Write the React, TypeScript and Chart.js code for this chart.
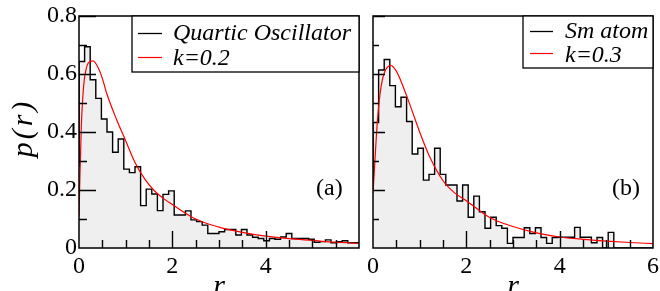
import React, { useEffect, useRef } from "react";
import { Chart, registerables } from "chart.js";

Chart.register(...registerables);

const FONT = '"Liberation Serif"';

// histogram bin edges (shared by both panels)
const binEdges = [
  0, 0.12, 0.24, 0.36, 0.48, 0.6, 0.72, 0.84, 0.96, 1.08,
  1.2, 1.32, 1.44, 1.56, 1.68, 1.8, 1.92, 2.04, 2.16, 2.28,
  2.4, 2.52, 2.64, 2.76, 2.88, 3.0, 3.12, 3.24, 3.36, 3.48,
  3.6, 3.72, 3.84, 3.96, 4.08, 4.2, 4.32, 4.44, 4.56, 4.68,
  4.8, 4.92, 5.04, 5.16, 5.28, 5.4, 5.52, 5.64, 5.76, 5.88, 6.0,
];

// panel (a): Quartic Oscillator histogram
const histA = [
  0.28, 0.643, 0.694, 0.58, 0.516, 0.445, 0.4, 0.33, 0.376, 0.272,
  0.26, 0.28, 0.146, 0.203, 0.186, 0.129, 0.185, 0.197, 0.114, 0.114,
  0.128, 0.097, 0.091, 0.079, 0.05, 0.05, 0.056, 0.064, 0.064, 0.045,
  0.064, 0.045, 0.037, 0.033, 0.025, 0.033, 0.03, 0.038, 0.05, 0.033,
  0.033, 0.033, 0.03, 0.02, 0.022, 0.028, 0.018, 0.022, 0.025, 0.018,
];

// panel (b): Sm atom histogram
const histB = [
  0.23, 0.433, 0.614, 0.65, 0.56, 0.487, 0.52, 0.436, 0.324, 0.344,
  0.234, 0.254, 0.344, 0.254, 0.217, 0.217, 0.162, 0.217, 0.106, 0.179,
  0.125, 0.068, 0.106, 0.077, 0.068, 0.016, 0.036, 0.036, 0.07, 0.05,
  0.07, 0.036, 0.016, 0.036, 0.037, 0.037, 0.037, 0.071, 0.037, 0.037,
  0.018, 0.036, 0, 0.054, 0, 0, 0, 0, 0, 0,
];

// fitted curves
const curveAx = [0, 0.02, 0.05, 0.1, 0.15, 0.2, 0.3, 0.4, 0.5, 0.6, 0.8, 1.0, 1.2, 1.4, 1.6, 1.8, 2.0, 2.5, 3.0, 3.5, 4.0, 4.5, 5.0, 5.5, 6.0];
const curveAy = [0.108, 0.25, 0.42, 0.56, 0.615, 0.638, 0.645, 0.625, 0.585, 0.53, 0.445, 0.37, 0.295, 0.24, 0.2, 0.172, 0.15, 0.1, 0.072, 0.054, 0.041, 0.032, 0.026, 0.02, 0.016];

const curveBx = [0, 0.03, 0.07, 0.1, 0.15, 0.2, 0.25, 0.3, 0.38, 0.5, 0.6, 0.8, 1.0, 1.2, 1.5, 1.75, 2.0, 2.5, 3.0, 3.5, 4.0, 4.5, 5.0, 5.5, 6.0];
const curveBy = [0.19, 0.27, 0.38, 0.45, 0.53, 0.58, 0.607, 0.622, 0.63, 0.61, 0.575, 0.49, 0.4, 0.32, 0.232, 0.19, 0.163, 0.105, 0.074, 0.052, 0.038, 0.03, 0.024, 0.019, 0.015];

// tick labels
const xTickLabelsA = [0, 2, 4];
const xTickLabelsB = [0, 2, 4, 6];
const yTickLabelsA = [0, 0.2, 0.4, 0.6, 0.8];

// inward tick marks
const xTickMarks = [0.5, 1, 1.5, 2, 2.5, 3, 3.5, 4, 4.5, 5, 5.5];
const xMajorMarks = [2, 4];
const yTickMarks = [0.1, 0.2, 0.3, 0.4, 0.5, 0.6, 0.7, 0.8];
const yMajorMarks = [0.2, 0.4, 0.6, 0.8];

const seriesNamesA = ["Quartic Oscillator", "k=0.2"];
const seriesNamesB = ["Sm atom", "k=0.3"];

const decoPlugin = {
  id: "deco",
  afterDatasetsDraw(chart: any, _args: any, opts: any) {
    const ctx = chart.ctx as CanvasRenderingContext2D;
    const { left, right, top, bottom } = chart.chartArea;
    const xs = chart.scales.x;
    const ys = chart.scales.y;
    ctx.save();
    ctx.strokeStyle = "#000";
    ctx.lineWidth = 1.4;
    ctx.beginPath();
    for (const v of yTickMarks) {
      const py = Math.round(ys.getPixelForValue(v)) + 0.5;
      const len = yMajorMarks.includes(v) ? opts.yMajor : opts.yMinor;
      ctx.moveTo(left, py);
      ctx.lineTo(left + len, py);
    }
    for (const v of xTickMarks) {
      const px = Math.round(xs.getPixelForValue(v)) + 0.5;
      const len = xMajorMarks.includes(v) ? opts.xMajor : opts.xMinor;
      ctx.moveTo(px, bottom);
      ctx.lineTo(px, bottom - len);
    }
    ctx.stroke();
    ctx.lineWidth = 1.5;
    ctx.strokeRect(left, top, right - left, bottom - top);

    // legend
    const L = opts.legend;
    ctx.fillStyle = "#fff";
    ctx.fillRect(L.x1, L.y1, L.x2 - L.x1, L.y2 - L.y1);
    ctx.lineWidth = 1.3;
    ctx.strokeStyle = "#000";
    ctx.strokeRect(L.x1, L.y1, L.x2 - L.x1, L.y2 - L.y1);
    ctx.font = `italic 24px ${FONT}`;
    ctx.textAlign = "left";
    ctx.textBaseline = "alphabetic";
    L.rows.forEach((row: any) => {
      const ds = chart.data.datasets[row.ds];
      ctx.strokeStyle = ds.borderColor;
      ctx.lineWidth = row.ds === 1 ? 1.3 : 1.2;
      ctx.beginPath();
      ctx.moveTo(L.lineX1, row.lineY);
      ctx.lineTo(L.lineX2, row.lineY);
      ctx.stroke();
      ctx.fillStyle = "#000";
      ctx.fillText(ds.label, L.textX, row.textY);
    });

    ctx.font = `24px ${FONT}`;
    ctx.fillStyle = "#000";
    ctx.fillText(opts.tag, opts.tagX, opts.tagY);

    // rotated y-axis title
    if (opts.yTitle) {
      const T = opts.yTitle;
      ctx.save();
      ctx.translate(T.x, (top + bottom) / 2 + T.dy);
      ctx.rotate(-Math.PI / 2);
      ctx.font = `italic ${T.size}px ${FONT}`;
      (ctx as any).letterSpacing = `${T.spacing}px`;
      ctx.textAlign = "center";
      ctx.textBaseline = "alphabetic";
      ctx.fillStyle = "#000";
      ctx.fillText(T.text, 0, 0);
      ctx.restore();
    }
    ctx.restore();
  },
};

function buildConfig(p: any): any {
  const histData = binEdges.map((e, i) => ({ x: e, y: i < p.hist.length ? p.hist[i] : p.hist[p.hist.length - 1] }));
  const curveData = p.cx.map((x: number, i: number) => ({ x, y: p.cy[i] }));
  return {
    type: "line",
    data: {
      datasets: [
        {
          label: p.names[1],
          data: curveData,
          borderColor: "#ff0000",
          borderWidth: 1.2,
          pointRadius: 0,
          cubicInterpolationMode: "monotone",
          fill: false,
        },
        {
          label: p.names[0],
          data: histData,
          borderColor: "#000000",
          borderWidth: 1.4,
          backgroundColor: "#efefef",
          pointRadius: 0,
          stepped: "after",
          fill: "origin",
        },
      ],
    },
    options: {
      animation: false,
      responsive: false,
      events: [],
      layout: { padding: { left: 0, top: 16, right: p.padRight, bottom: 0 } },
      plugins: {
        legend: { display: false },
        tooltip: { enabled: false },
        deco: p.deco,
      },
      scales: {
        x: {
          type: "linear",
          min: 0,
          max: 6,
          grid: { display: false, drawTicks: false },
          border: { display: false },
          afterBuildTicks: (s: any) => {
            s.ticks = p.xTicks.map((v: number) => ({ value: v }));
          },
          afterFit: (s: any) => {
            s.height = 43;
            s.paddingLeft = 0;
            s.paddingRight = 0;
          },
          ticks: {
            color: "#000",
            padding: 4,
            maxRotation: 0,
            autoSkip: false,
            font: { family: FONT, size: 24 },
            callback: (v: number) => String(v),
          },
          title: {
            display: true,
            text: "r",
            color: "#000",
            font: { family: FONT, size: 30, style: "italic", lineHeight: 1 },
            padding: { top: 0, bottom: -11 },
          },
        },
        y: {
          type: "linear",
          min: 0,
          max: 0.8,
          grid: { display: false, drawTicks: false },
          border: { display: false },
          afterBuildTicks: (s: any) => {
            s.ticks = p.yTicks.map((v: number) => ({ value: v }));
          },
          afterFit: (s: any) => {
            s.width = p.yWidth;
            s.paddingTop = 0;
            s.paddingBottom = 0;
          },
          ticks: {
            display: p.yTicks.length > 0,
            color: "#000",
            padding: 2,
            autoSkip: false,
            font: { family: FONT, size: 24 },
            callback: (v: number) => String(v),
          },
        },
      },
    },
    plugins: [decoPlugin],
  };
}

const panelA = {
  hist: histA,
  cx: curveAx,
  cy: curveAy,
  names: seriesNamesA,
  xTicks: xTickLabelsA,
  yTicks: yTickLabelsA,
  yWidth: 79,
  padRight: 9,
  deco: {
    yMajor: 17,
    yMinor: 8,
    xMajor: 17,
    xMinor: 8,
    tag: "(a)",
    tagX: 316,
    tagY: 195,
    yTitle: { text: "p(r)", x: 32, dy: -4, size: 30, spacing: 3 },
    legend: {
      x1: 132, y1: 16, x2: 359, y2: 72,
      lineX1: 138, lineX2: 162, textX: 173,
      rows: [
        { ds: 1, lineY: 33.5, textY: 40 },
        { ds: 0, lineY: 57.5, textY: 65 },
      ],
    },
  },
};

const panelB = {
  hist: histB,
  cx: curveBx,
  cy: curveBy,
  names: seriesNamesB,
  xTicks: xTickLabelsB,
  yTicks: [] as number[],
  yWidth: 5,
  padRight: 7,
  deco: {
    yMajor: 12,
    yMinor: 6,
    xMajor: 17,
    xMinor: 8,
    tag: "(b)",
    tagX: 244,
    tagY: 195,
    yTitle: null,
    legend: {
      x1: 155, y1: 16, x2: 285, y2: 68,
      lineX1: 162, lineX2: 185, textX: 197,
      rows: [
        { ds: 1, lineY: 31.5, textY: 38 },
        { ds: 0, lineY: 53.5, textY: 62 },
      ],
    },
  },
};

function Panel({ cfg, left, width }: { cfg: any; left: number; width: number }) {
  const ref = useRef<HTMLCanvasElement>(null);
  useEffect(() => {
    const chart = new Chart(ref.current as HTMLCanvasElement, buildConfig(cfg));
    let alive = true;
    const t1 = setTimeout(() => {
      if (alive) chart.update();
    }, 50);
    return () => {
      alive = false;
      clearTimeout(t1);
      chart.destroy();
    };
  }, []);
  return (
    <div style={{ position: "absolute", left, top: 0, width, height: 291, background: "#fff" }}>
      <canvas ref={ref} width={width} height={291} style={{ display: "block", width, height: 291 }} />
    </div>
  );
}

export default function App() {
  return (
    <div style={{ position: "absolute", left: 0, top: 0, width: 660, height: 291, background: "#fff", overflow: "hidden" }}>
      <Panel cfg={panelA} left={0} width={368} />
      <Panel cfg={panelB} left={368} width={292} />
    </div>
  );
}
